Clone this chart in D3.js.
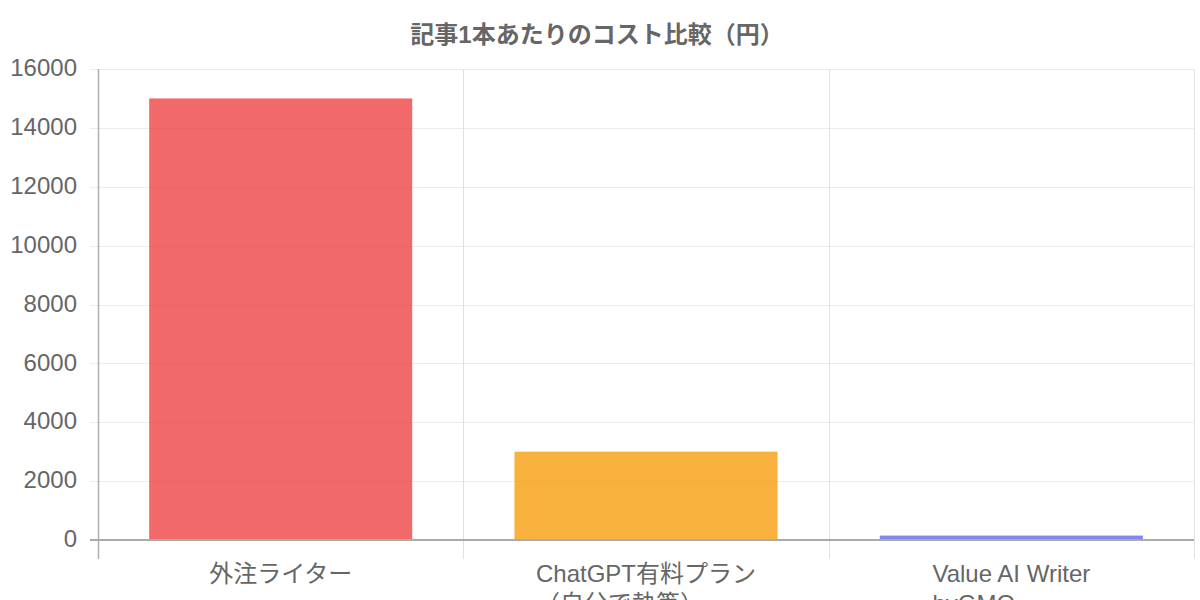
<!DOCTYPE html>
<html>
<head>
<meta charset="utf-8">
<script src="https://cdn.jsdelivr.net/npm/d3@7"></script>
<style>
  body { margin: 0; background: #fff; }
  svg { display: block; }
  text { font-family: "Liberation Sans", "Noto Sans CJK JP", sans-serif; fill: #666; }
</style>
</head>
<body>
<div id="chart"></div>
<script>
// data
var categories = [["外注ライター"], ["ChatGPT有料プラン", "（自分で執筆）"], ["Value AI Writer", "byGMO"]];
var costs = [15000, 3000, 150];
var barColors = ["rgba(239,68,68,0.8)", "rgba(245,158,11,0.8)", "rgba(99,102,241,0.8)"];
var yTicks = [0, 2000, 4000, 6000, 8000, 10000, 12000, 14000, 16000];

var W = 1200, H = 600;
var plotL = 98, plotR = 1194, plotT = 69, plotB = 540;

var svg = d3.select("#chart").append("svg")
    .attr("width", W)
    .attr("height", H);

var x = d3.scaleBand()
    .domain(d3.range(categories.length))
    .range([plotL, plotR])
    .paddingInner(0)
    .paddingOuter(0);

var y = d3.scaleLinear()
    .domain([0, 16000])
    .range([plotB, plotT]);

// horizontal grid + tick marks
svg.append("g").selectAll("line")
    .data(yTicks.filter(function(d) { return d !== 0; }))
    .enter().append("line")
    .attr("x1", plotL - 8)
    .attr("x2", plotR)
    .attr("y1", function(d) { return Math.round(y(d)) + 0.5; })
    .attr("y2", function(d) { return Math.round(y(d)) + 0.5; })
    .style("stroke", "#ececec")
    .style("stroke-width", 1);

// vertical grid lines at category edges
var edges = d3.range(categories.length + 1).map(function(i) {
  return i < categories.length ? x(i) : x(i - 1) + x.bandwidth();
});
svg.append("g").selectAll("line")
    .data(edges)
    .enter().append("line")
    .attr("x1", function(d) { return Math.round(d) + 0.5; })
    .attr("x2", function(d) { return Math.round(d) + 0.5; })
    .attr("y1", plotT)
    .attr("y2", plotB + 19)
    .style("stroke", function(d, i) { return i === 0 ? "#b0b0b0" : "#e0e0e0"; })
    .style("stroke-width", function(d, i) { return i === 0 ? 1.5 : 1; });

// bars
var barW = x.bandwidth() * 0.72;
svg.append("g").selectAll("rect")
    .data(costs)
    .enter().append("rect")
    .attr("x", function(d, i) { return x(i) + (x.bandwidth() - barW) / 2; })
    .attr("y", function(d) { return y(d); })
    .attr("width", barW)
    .attr("height", function(d) { return y(0) - y(d); })
    .style("fill", function(d, i) { return barColors[i]; });

// zero line over the bars, with its tick
svg.append("line")
    .attr("x1", plotL - 8)
    .attr("x2", plotR)
    .attr("y1", y(0))
    .attr("y2", y(0))
    .style("stroke", "#aaa")
    .style("stroke-width", 2);

// y tick labels
svg.append("g").selectAll("text")
    .data(yTicks)
    .enter().append("text")
    .attr("x", 77)
    .attr("y", function(d) { return y(d); })
    .attr("dy", "0.3em")
    .attr("text-anchor", "end")
    .style("font-size", "24px")
    .text(function(d) { return d; });

// x labels: first line centred, further lines start where the first one starts
var xl = svg.append("g").selectAll("text")
    .data(categories)
    .enter().append("text")
    .attr("y", 582)
    .attr("text-anchor", "start")
    .style("font-size", "24px");
xl.selectAll("tspan")
    .data(function(d) { return d; })
    .enter().append("tspan")
    .attr("dy", function(d, i) { return i === 0 ? 0 : 30; })
    .text(function(d) { return d; });
xl.each(function(d, i) {
  var first = d3.select(this).select("tspan").node();
  var w = first.getComputedTextLength();
  var x0 = x(i) + x.bandwidth() / 2 - w / 2;
  d3.select(this).selectAll("tspan").attr("x", x0);
});

// title
svg.append("text")
    .attr("x", W / 2 - 3)
    .attr("y", 43)
    .attr("text-anchor", "middle")
    .style("font-size", "24px")
    .style("font-weight", "bold")
    .text("記事1本あたりのコスト比較（円）");
</script>
</body>
</html>
